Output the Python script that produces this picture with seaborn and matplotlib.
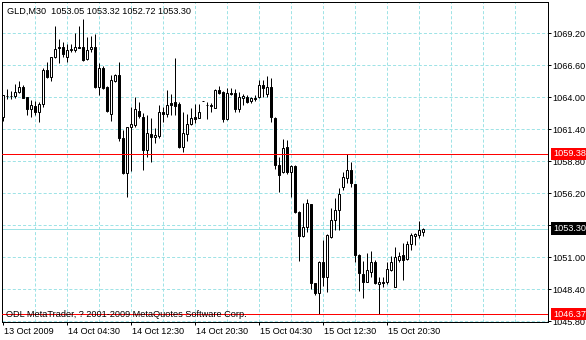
import matplotlib
matplotlib.use("Agg")
import matplotlib.pyplot as plt
import matplotlib.transforms as mtransforms
import seaborn as sns
import numpy as np
import pandas as pd

# ---------------- data ----------------
symbol = "GLD,M30"
opens = [1062.40, 1064.05, 1064.10, 1064.11, 1064.43, 1064.84, 1063.97, 1063.00, 1063.29, 1062.81,
         1063.40, 1066.19, 1065.65, 1067.22, 1068.03, 1068.03, 1067.28, 1067.79, 1067.79, 1068.05,
         1068.03, 1067.09, 1067.87, 1068.03, 1064.84, 1066.38, 1064.84, 1062.59, 1065.30, 1065.79,
         1060.64, 1057.80, 1061.53, 1061.72, 1062.86, 1062.35, 1059.69, 1060.99, 1060.72, 1060.86,
         1062.81, 1062.64, 1063.48, 1063.56, 1063.43, 1059.96, 1060.99, 1061.78, 1062.40, 1062.27,
         1063.67, 1063.35, 1063.30, 1063.13, 1064.57, 1064.43, 1062.21, 1064.32, 1064.30, 1063.00,
         1063.94, 1064.03, 1063.67, 1063.90, 1064.03, 1064.97, 1064.24, 1064.84, 1062.32, 1058.47,
         1057.93, 1059.91, 1057.93, 1058.39, 1054.68, 1052.73, 1053.46, 1055.28, 1048.86, 1048.05,
         1050.62, 1049.40, 1052.65, 1054.00, 1054.82, 1056.71, 1057.45, 1058.07, 1056.93, 1051.16,
         1049.62, 1049.00, 1049.81, 1050.57, 1048.78, 1049.00, 1049.00, 1049.94, 1048.59, 1050.76,
         1051.16, 1050.81, 1052.03, 1052.73, 1052.79, 1053.05]
highs = [1064.20, 1064.65, 1064.49, 1065.05, 1065.30, 1064.97, 1064.00, 1063.75, 1063.67, 1063.62,
         1066.38, 1066.87, 1067.22, 1069.77, 1068.71, 1068.49, 1068.28, 1068.28, 1069.17, 1069.77,
         1070.34, 1068.90, 1068.98, 1069.09, 1066.73, 1066.54, 1064.89, 1065.79, 1065.87, 1066.87,
         1061.32, 1061.55, 1063.16, 1064.03, 1063.56, 1062.67, 1062.54, 1062.27, 1061.51, 1063.35,
         1063.21, 1064.57, 1064.21, 1067.19, 1063.56, 1062.81, 1062.62, 1063.08, 1063.40, 1063.40,
         1063.67, 1063.56, 1063.48, 1064.62, 1064.92, 1064.49, 1064.70, 1064.76, 1064.65, 1064.38,
         1064.21, 1064.16, 1064.03, 1064.16, 1065.38, 1065.38, 1065.70, 1065.57, 1062.35, 1059.15,
         1060.56, 1060.50, 1058.47, 1058.47, 1054.70, 1055.41, 1055.68, 1055.30, 1048.88, 1050.67,
         1052.38, 1052.84, 1055.01, 1055.77, 1056.63, 1057.93, 1059.38, 1058.74, 1056.95, 1051.22,
         1050.67, 1051.30, 1051.49, 1050.76, 1049.35, 1049.40, 1050.57, 1051.11, 1051.79, 1051.38,
         1052.11, 1052.30, 1052.92, 1052.92, 1053.93, 1053.32]
lows = [1062.05, 1063.84, 1063.84, 1063.89, 1064.35, 1063.89, 1062.54, 1062.35, 1062.54, 1062.00,
        1063.21, 1065.51, 1065.30, 1067.14, 1066.73, 1067.28, 1066.87, 1067.63, 1067.63, 1067.95,
        1066.92, 1067.00, 1067.68, 1064.70, 1064.16, 1064.65, 1062.81, 1062.05, 1065.25, 1060.42,
        1057.78, 1055.90, 1058.00, 1061.53, 1062.27, 1058.07, 1059.15, 1058.74, 1060.23, 1060.64,
        1062.00, 1062.40, 1062.54, 1062.54, 1059.83, 1059.56, 1060.42, 1061.72, 1061.91, 1062.27,
        1063.67, 1062.18, 1062.81, 1063.08, 1064.21, 1061.94, 1062.13, 1064.16, 1062.81, 1062.81,
        1063.35, 1063.48, 1063.48, 1063.67, 1063.89, 1064.03, 1064.03, 1061.94, 1058.15, 1056.31,
        1057.80, 1057.72, 1055.90, 1054.60, 1050.70, 1052.65, 1053.06, 1048.40, 1047.91, 1046.37,
        1048.67, 1048.18, 1052.57, 1053.19, 1053.19, 1056.44, 1056.98, 1056.71, 1050.62, 1048.26,
        1047.64, 1048.98, 1049.40, 1048.78, 1046.40, 1048.59, 1048.78, 1049.86, 1048.57, 1050.62,
        1049.13, 1050.76, 1051.57, 1051.97, 1052.57, 1052.72]
closes = [1064.16, 1064.10, 1064.12, 1064.43, 1064.78, 1063.94, 1063.00, 1063.35, 1062.81, 1063.43,
          1066.19, 1065.65, 1067.22, 1067.90, 1067.95, 1067.47, 1067.82, 1067.90, 1068.03, 1068.00,
          1067.00, 1067.82, 1068.09, 1064.84, 1066.33, 1064.70, 1062.89, 1065.38, 1065.79, 1060.64,
          1057.80, 1061.53, 1061.81, 1063.00, 1062.48, 1059.69, 1061.05, 1060.72, 1060.91, 1062.81,
          1062.64, 1063.35, 1063.35, 1063.29, 1059.96, 1061.05, 1061.78, 1062.32, 1062.18, 1062.81,
          1063.67, 1063.37, 1063.32, 1064.57, 1064.30, 1062.21, 1064.30, 1064.28, 1063.00, 1064.03,
          1064.11, 1063.62, 1063.89, 1063.87, 1064.97, 1064.70, 1064.84, 1062.35, 1058.47, 1057.66,
          1059.88, 1057.93, 1058.39, 1054.68, 1052.73, 1053.41, 1055.36, 1048.86, 1048.05, 1050.57,
          1049.40, 1052.79, 1054.00, 1054.82, 1056.09, 1057.47, 1058.07, 1056.98, 1051.16, 1049.67,
          1049.00, 1049.94, 1050.62, 1048.86, 1049.00, 1048.86, 1050.03, 1050.62, 1051.03, 1051.11,
          1050.76, 1052.03, 1052.79, 1052.84, 1053.19, 1053.30]

time_labels = ["13 Oct 2009", "14 Oct 04:30", "14 Oct 12:30", "14 Oct 20:30",
               "15 Oct 04:30", "15 Oct 12:30", "15 Oct 20:30"]
time_label_bars = [0, 16, 32, 48, 64, 80, 96]
price_ticks = [1045.80, 1048.40, 1051.00, 1053.60, 1056.20, 1058.80,
               1061.40, 1064.00, 1066.60, 1069.20]
bid_price = 1053.30
level_lines = [1059.38, 1046.37]
copyright_text = "ODL MetaTrader, ? 2001-2009 MetaQuotes Software Corp."

# ---------------- styling ----------------
sns.set_theme(style="white")
plt.rcParams["font.family"] = ["Liberation Sans", "DejaVu Sans"]
plt.rcParams["lines.scale_dashes"] = False
FS = 6.6
PX = 0.72  # one pixel in points at 100 dpi
GRID = "#9fe3e6"

df = pd.DataFrame({"open": opens, "high": highs, "low": lows, "close": closes})
df["bar"] = np.arange(len(df))
df["bull"] = df["close"] >= df["open"]
df["bottom"] = df[["open", "close"]].min(axis=1)
df["height"] = (df["close"] - df["open"]).abs()

fig = plt.figure(figsize=(5.86, 3.40), dpi=100)
fig.patch.set_facecolor("white")
ax = fig.add_axes([2 / 586, 18 / 340, 546 / 586, 320 / 340])
ax.set_facecolor("white")

ax.set_xlim(-0.25, 136.25)
ax.set_ylim(1045.72, 1071.72)

# grid
ax.set_xticks(np.arange(8, 129, 8), minor=True)
ax.xaxis.remove_overlapping_locs = False
ax.xaxis.grid(True, which="minor", color=GRID, linewidth=PX, linestyle=(0, (2.2, 1.5)))
ax.xaxis.grid(False, which="major")
ax.yaxis.grid(True, which="major", color=GRID, linewidth=PX, linestyle=(0, (2.2, 1.5)))
ax.set_axisbelow(True)

# bid line
ax.axhline(bid_price, color=GRID, linewidth=PX, zorder=1.2)

# candles
ax.vlines(df["bar"], df["low"], df["high"], colors="black", linewidth=PX, zorder=3)
ax.bar(df["bar"], df["height"], bottom=df["bottom"], width=0.5,
       color=np.where(df["bull"], "white", "black"), edgecolor="black",
       linewidth=PX, zorder=4)

# level lines
for lv in level_lines:
    ax.axhline(lv, color="red", linewidth=PX, zorder=5)

# axes
for s in ax.spines.values():
    s.set_color("black")
    s.set_linewidth(PX)
    s.set_visible(True)

ax.yaxis.tick_right()
ax.set_yticks(price_ticks)
# the 1053.60 label is covered by the bid box in the reference
ax.set_yticklabels(["" if abs(v - 1053.60) < 1e-6 else f"{v:.2f}" for v in price_ticks])
ax.set_xticks(time_label_bars)
ax.set_xticklabels(time_labels, ha="left")
ax.tick_params(axis="both", which="major", direction="out", length=2.2, width=PX,
               color="black", labelsize=FS, labelcolor="black", pad=1.2)
ax.tick_params(axis="x", which="minor", length=0)
ax.tick_params(axis="y", which="both", left=False, right=True)
ax.tick_params(axis="x", which="major", bottom=True, top=False)

# shift x labels one pixel right
offset = mtransforms.ScaledTranslation(1 / 100, 0, fig.dpi_scale_trans)
for lab in ax.get_xticklabels():
    lab.set_transform(lab.get_transform() + offset)

# price boxes on right axis
lab_tr = mtransforms.blended_transform_factory(ax.transAxes, ax.transData)
for lv in level_lines:
    ax.text(1 + 5 / 546, lv, f"{lv:.2f}", transform=lab_tr, ha="left", va="center",
            fontsize=FS, color="white", clip_on=False, zorder=10,
            bbox=dict(boxstyle="square,pad=0.2", fc="red", ec="none"))
ax.text(1 + 5 / 546, bid_price, f"{bid_price:.2f}", transform=lab_tr, ha="left", va="center",
        fontsize=FS, color="white", clip_on=False, zorder=10,
        bbox=dict(boxstyle="square,pad=0.2", fc="black", ec="none"))

# header and footer texts
header = f"{symbol}  {opens[-1]:.2f} {highs[-1]:.2f} {lows[-1]:.2f} {closes[-1]:.2f}"
ax.text(5 / 546, (322 - 11) / 320, header, transform=ax.transAxes, ha="left", va="center",
        fontsize=FS, color="black", zorder=10)
ax.text(4 / 546, (322 - 314.5) / 320, copyright_text, transform=ax.transAxes, ha="left",
        va="center", fontsize=FS, color="black", zorder=10)

fig.savefig("out.png", dpi=100, facecolor="white")
